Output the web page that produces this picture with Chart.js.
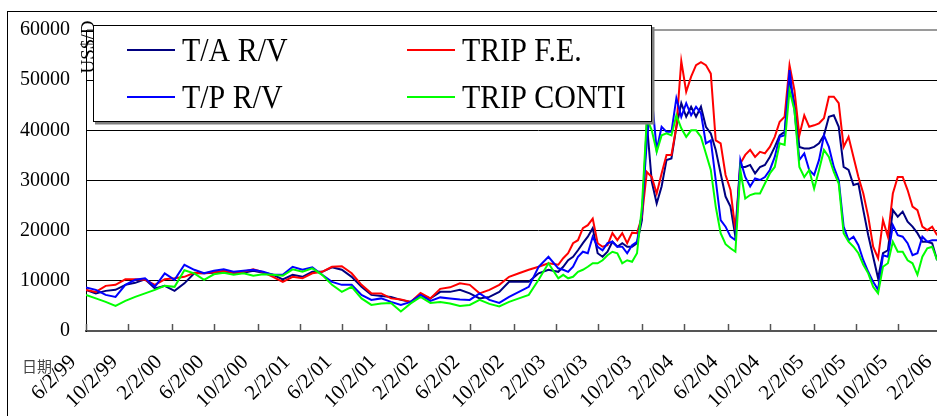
<!DOCTYPE html>
<html>
<head>
<meta charset="utf-8">
<script src="https://cdn.jsdelivr.net/npm/chart.js@4.4.1/dist/chart.umd.min.js"></script>
<style>
html, body { margin:0; padding:0; background:#fff; overflow:hidden; }
#graficoFletes { display:block; }
</style>
</head>
<body>
<canvas id="graficoFletes" width="990" height="416"></canvas>
<script>

// semanas contadas desde 6/2/99
const semanas = [
    0, 4, 8, 12, 16, 20, 24, 28, 32, 36, 40, 44, 48, 52, 56, 60, 64, 68, 72,
    76, 80, 84, 88, 92, 96, 100, 104, 108, 112, 116, 120, 124, 128, 132, 136, 140, 144,
    148, 152, 156, 160, 164, 168, 172, 176, 180, 184, 188, 192,
    194, 196, 198, 200, 202, 204, 206, 208, 210, 212, 214, 216, 218, 220,
    222, 224, 226, 228, 230, 232, 234, 236, 238, 240, 242, 244, 246, 248, 250,
    252, 254, 256, 258, 260, 262, 264, 266, 268, 270, 272, 274, 276, 278, 280,
    282, 284, 286, 288, 290, 292, 294, 296, 298, 300, 302, 304, 306, 308, 310,
    312, 314, 316, 318, 320, 322, 324, 326, 328, 330, 332, 334, 336, 338, 340,
    342, 344, 346
];

const semanasEtiqueta = [
    0, 17, 35, 52, 70, 87, 104, 122, 139, 156, 174,
    191, 208, 226, 243, 261, 278, 296, 313, 330, 348
];

const etiquetasFecha = [
    "6/2/99", "10/2/99", "2/2/00", "6/2/00", "10/2/00", "2/2/01", "6/2/01",
    "10/2/01", "2/2/02", "6/2/02", "10/2/02", "2/2/03", "6/2/03", "10/2/03",
    "2/2/04", "6/2/04", "10/2/04", "2/2/05", "6/2/05", "10/2/05", "2/2/06"
];

const valoresEjeY = [0, 10000, 20000, 30000, 40000, 50000, 60000];

const taRV = [
    8200, 7500, 8000, 8200, 9200, 9600, 10300, 8500, 9000, 8000, 9500, 11500, 11500, 11600, 11800, 11600, 11600, 12000, 11600,
    11200, 10300, 11200, 10800, 11800, 11800, 12700, 12200, 10800, 8800, 7200, 7000, 6800, 6200, 5800, 7200, 6500, 7800,
    7800, 8200, 7500, 6500, 6800, 7800, 9800, 9800, 9800, 11500, 12200, 11800,
    12800, 14100, 14800, 16100, 17500, 18800, 20500, 15500, 14800, 15800, 17800, 16800, 17500, 16800,
    16800, 17500, 22100, 41400, 29800, 25400, 28800, 34100, 34400, 40700, 45400, 42700, 44700, 42700, 44700,
    40700, 39400, 36100, 31400, 26800, 24800, 18800, 32700, 32700, 33100, 31400, 32700, 33100, 34700, 36700,
    39000, 39700, 50000, 45400, 36700, 36400, 36400, 36700, 37400, 39000, 42700, 43000, 40700, 32700, 32100,
    29100, 29400, 24100, 19100, 14800, 10500, 15500, 16100, 24100, 22800, 23800, 21800, 20800, 19500, 17800,
    17800, 17500, 14100
];

const tripFE = [
    8200, 7800, 9000, 9200, 10300, 10300, 10200, 9200, 10300, 10500, 10800, 11600, 11500, 11700, 12000, 11600, 11800, 12300, 11700,
    10800, 9800, 10800, 10500, 11500, 11800, 12800, 12900, 11500, 9200, 7500, 7500, 6500, 6300, 5800, 7600, 6500, 8400,
    8700, 9500, 9200, 7500, 8200, 9200, 10800, 11500, 12200, 12800, 13500, 13200,
    14500, 15500, 17500, 18100, 20500, 21100, 22400, 17500, 16800, 17100, 19500, 18100, 19500, 17500,
    19600, 19500, 22800, 31700, 30700, 27400, 31400, 35100, 35100, 40700, 53800, 47700, 50700, 53000, 53600,
    53000, 51300, 38000, 37400, 31100, 28100, 20100, 33400, 35100, 36100, 34700, 35700, 35400, 36700, 38700,
    41700, 42700, 53000, 48000, 39000, 43000, 40700, 41000, 41400, 42400, 46700, 46700, 45400, 36700, 38700,
    34700, 30700, 27400, 22800, 16800, 14500, 22100, 18800, 27400, 30700, 30700, 28100, 24800, 24100, 20800,
    20100, 20800, 19100
];

const tpRV = [
    8700, 8200, 7200, 6800, 9200, 10200, 10500, 8800, 11500, 10200, 13200, 12200, 11500, 12000, 12300, 11800, 12000, 12200, 11800,
    11200, 11200, 12800, 12200, 12700, 11200, 9800, 9200, 9200, 7200, 6200, 6500, 5800, 5200, 5800, 7200, 6000, 6700,
    6500, 6300, 6200, 7500, 6200, 5600, 6800, 7800, 8800, 12800, 14800, 12500,
    12200, 11800, 12800, 14800, 15800, 15500, 18800, 16800, 16100, 17500, 17800, 16800, 16800, 15500,
    17100, 17800, 23400, 38000, 46700, 36100, 40700, 39700, 39700, 46400, 42700, 45400, 43000, 44700, 43400,
    37400, 38000, 30100, 22100, 20800, 18800, 18100, 34100, 30700, 28800, 30400, 30100, 30700, 32100, 34700,
    38700, 39000, 52000, 44000, 34100, 35400, 32100, 31100, 34100, 39000, 36700, 32700, 30100, 20800, 18100,
    18800, 17100, 14100, 11800, 9800, 8200, 15100, 14800, 21100, 19100, 18800, 17500, 15100, 15500, 18800,
    17800, 18100, 18100
];

const tripConti = [
    7200, 6500, 5800, 5000, 6000, 6800, 7500, 8200, 9000, 8800, 12100, 11500, 10200, 11300, 11600, 11200, 11500, 11000, 11300,
    11200, 11000, 12300, 11800, 12500, 11200, 9200, 7800, 8800, 6500, 5200, 5500, 5600, 3900, 5500, 6800, 5600, 5800,
    5500, 5000, 5200, 6200, 5400, 4900, 5800, 6500, 7200, 10200, 13500, 10500,
    11200, 10500, 10800, 11800, 12200, 12800, 13500, 13500, 14100, 15100, 15800, 15500, 13500, 14100,
    13800, 15500, 24800, 42400, 40000, 35700, 39000, 39400, 39000, 43000, 40400, 38700, 40000, 40000, 38700,
    35400, 32100, 24800, 19500, 17300, 16500, 15800, 32100, 26400, 27100, 27400, 27400, 29400, 31400, 32700,
    37400, 37100, 48000, 44000, 32700, 30700, 32100, 28400, 32100, 36100, 34700, 31700, 29400, 19500, 17800,
    16800, 15500, 13200, 11500, 8800, 7500, 12800, 13500, 17800, 15800, 15800, 14100, 13500, 11200, 14800,
    16500, 16800, 14100
];

const fuenteSerif = '"Liberation Serif", "Times New Roman", serif';

function puntos(valores){

    return semanas.map(
        (s, i) => ({ x: s, y: valores[i] })
    );

}

function serie(nombre, valores, color, orden){

    return {
        label: nombre,
        data: puntos(valores),
        borderColor: color,
        backgroundColor: color,
        borderWidth: 2,
        pointRadius: 0,
        tension: 0,
        fill: false,
        order: orden
    };

}

const decorado = {

    id: "decorado",

    beforeDraw(chart){

        const ctx = chart.ctx;

        ctx.save();
        ctx.fillStyle = "#fff";
        ctx.fillRect(0, 0, chart.width, chart.height);
        ctx.strokeStyle = "#000";
        ctx.lineWidth = 1;
        ctx.strokeRect(7.5, 11.5, chart.width + 40, chart.height + 40);
        ctx.restore();

    },

    afterDraw(chart){

        const ctx = chart.ctx;
        const ejeX = chart.scales.x;
        const area = chart.chartArea;

        ctx.save();

        // marcas cortas del eje de fechas, hacia dentro
        ctx.strokeStyle = "#555";
        ctx.lineWidth = 1.5;
        ejeX.ticks.forEach(t => {
            const px = Math.round(ejeX.getPixelForValue(t.value)) + 0.5;
            ctx.beginPath();
            ctx.moveTo(px, area.bottom);
            ctx.lineTo(px, area.bottom - 7);
            ctx.stroke();
        });

        // titulo del eje Y
        ctx.save();
        ctx.translate(94, 47);
        ctx.rotate(-Math.PI / 2);
        ctx.fillStyle = "#000";
        ctx.font = "19px " + fuenteSerif;
        ctx.textAlign = "center";
        ctx.textBaseline = "alphabetic";
        ctx.fillText("US$/D", 0, 0);
        ctx.restore();

        // rotulo de fechas
        ctx.fillStyle = "#444";
        ctx.font = '15px "Noto Sans CJK TC", "Noto Sans CJK SC", sans-serif';
        ctx.textAlign = "left";
        ctx.textBaseline = "middle";
        ctx.fillText("日期", 22, 366);

        // leyenda
        const caja = { x: 93.5, y: 25.5, w: 558, h: 96 };
        ctx.fillStyle = "#808080";
        ctx.fillRect(caja.x + 1.5, caja.y + 1.5, caja.w + 1.5, caja.h + 1.5);
        ctx.fillStyle = "#fff";
        ctx.fillRect(caja.x, caja.y, caja.w, caja.h);
        ctx.strokeStyle = "#000";
        ctx.lineWidth = 1;
        ctx.strokeRect(caja.x, caja.y, caja.w, caja.h);

        const columnas = [127, 407];
        const filas = [50, 97];

        chart.data.datasets.forEach((d, i) => {
            const cx = columnas[i % 2];
            const cy = filas[Math.floor(i / 2)];
            ctx.strokeStyle = d.borderColor;
            ctx.lineWidth = 2;
            ctx.beginPath();
            ctx.moveTo(cx, cy);
            ctx.lineTo(cx + 48, cy);
            ctx.stroke();

            ctx.save();
            ctx.translate(cx + 55, cy);
            ctx.scale(0.88, 1);
            ctx.fillStyle = "#000";
            ctx.font = "34px " + fuenteSerif;
            ctx.textAlign = "left";
            ctx.textBaseline = "middle";
            ctx.fillText(d.label, 0, 2);
            ctx.restore();
        });

        ctx.restore();

    }

};

window.onload = () => {

    new Chart(

        document.getElementById(
            "graficoFletes"
        ),

        {

            type: "line",

            data: {

                datasets: [
                    serie("T/A R/V", taRV, "#000080", 3),
                    serie("TRIP F.E.", tripFE, "#ff0000", 2),
                    serie("T/P R/V", tpRV, "#0000ff", 1),
                    serie("TRIP CONTI", tripConti, "#00ff00", 0)
                ]

            },

            options: {

                responsive: false,
                animation: false,
                devicePixelRatio: 1,

                layout: {
                    padding: { top: 30, left: 0, right: 0, bottom: 0 }
                },

                plugins: {
                    legend: { display: false },
                    tooltip: { enabled: false }
                },

                scales: {

                    x: {
                        type: "linear",
                        min: 0,
                        max: 367.5,
                        afterBuildTicks(s){
                            s.ticks = semanasEtiqueta.map(v => ({ value: v }));
                        },
                        afterFit(s){
                            s.height = 85;
                            s.paddingLeft = 0;
                            s.paddingRight = 0;
                        },
                        ticks: {
                            autoSkip: false,
                            minRotation: 45,
                            maxRotation: 45,
                            padding: 19,
                            labelOffset: -13,
                            color: "#000",
                            font: { family: fuenteSerif, size: 21 },
                            callback: v => etiquetasFecha[semanasEtiqueta.indexOf(v)]
                        },
                        grid: { display: false, drawTicks: false },
                        border: { color: "#555", width: 2 }
                    },

                    y: {
                        min: 0,
                        max: 60000,
                        afterBuildTicks(s){
                            s.ticks = valoresEjeY.map(v => ({ value: v }));
                        },
                        afterFit(s){
                            s.width = 86;
                        },
                        ticks: {
                            padding: 16,
                            color: "#000",
                            font: { family: fuenteSerif, size: 20 },
                            callback: v => String(v)
                        },
                        grid: {
                            drawTicks: false,
                            color: c => c.tick.value === 60000 ? "#9a9a9a" : (c.tick.value === 0 ? "rgba(0,0,0,0)" : "#000"),
                            lineWidth: c => c.tick.value === 60000 ? 2 : 1
                        },
                        border: { color: "#000", width: 1 }
                    }

                }

            },

            plugins: [decorado]

        }

    );

};

</script>
</body>
</html>
